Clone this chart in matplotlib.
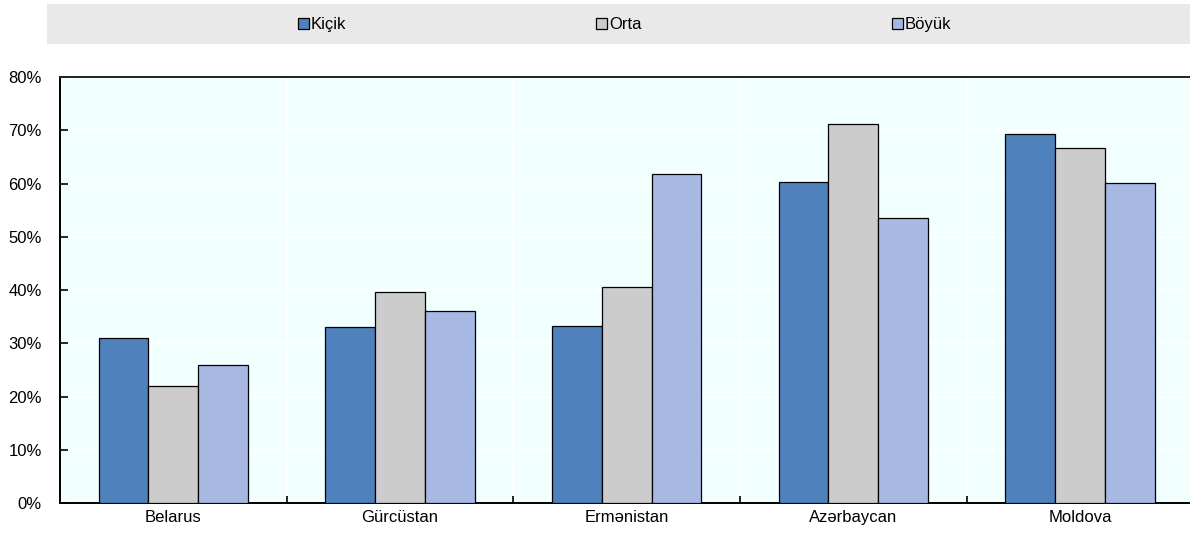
import matplotlib
matplotlib.use('Agg')
from matplotlib import pyplot as plt
from matplotlib.patches import Rectangle
import numpy as np

plt.rcParams['font.family'] = ['Liberation Sans', 'DejaVu Sans']

countries = ['Belarus', 'Gürcüstan', 'Ermənistan', 'Azərbaycan', 'Moldova']
kicik = [31.0, 33.1, 33.3, 60.3, 69.3]
orta = [22.0, 39.6, 40.6, 71.1, 66.7]
boyuk = [26.0, 36.1, 61.8, 53.5, 60.2]
series_names = ['Kiçik', 'Orta', 'Böyük']
colors = ['#4F81BD', '#CCCCCC', '#A7B9E3']

fs = 12
fig = plt.figure(figsize=(11.9, 5.34), dpi=100)

# grey legend band at top
fig.patches.append(Rectangle((47/1190, 1-44/534), 1.0, 40/534,
                             transform=fig.transFigure, facecolor='#E9E9E9',
                             edgecolor='none', zorder=0))

ax = fig.add_axes([60/1190, 1-503.3/534, 1133.3/1190, 426.3/534])
ax.set_facecolor('#F2FFFF')

x = np.arange(len(countries))
w = 0.22
bars = []
for i, vals in enumerate([kicik, orta, boyuk]):
    b = ax.bar(x + (i-1)*w, vals, w, color=colors[i], edgecolor='black',
               linewidth=0.9, label=series_names[i], zorder=3)
    bars.append(b)

ax.set_xlim(-0.5, len(countries)-0.5)
ax.set_ylim(0, 80)
ax.set_yticks(np.arange(0, 81, 10))
ax.set_yticklabels([f'{v}%' for v in range(0, 81, 10)], fontsize=fs)
ax.set_xticks(x)
ax.set_xticklabels(countries, fontsize=fs)
ax.set_xticks(np.arange(0.5, len(countries)-0.5, 1), minor=True)

ax.tick_params(axis='x', which='major', length=0, pad=5)
ax.tick_params(axis='x', which='minor', direction='in', length=5, width=1.2)
ax.tick_params(axis='y', direction='in', length=6, width=1.2, pad=13)

ax.grid(axis='y', color='white', linewidth=1.3, zorder=1)
ax.grid(axis='x', which='minor', color='white', linewidth=1.3, zorder=1)
ax.set_axisbelow(True)

for s in ['left', 'bottom', 'top']:
    ax.spines[s].set_linewidth(1.4)
    ax.spines[s].set_color('black')
ax.spines['top'].set_color('#222222')
ax.spines['right'].set_visible(False)

fig.legend(handles=bars, labels=series_names, loc='center',
           bbox_to_anchor=(624.5/1190, 1-24.5/534), ncol=3, frameon=False,
           fontsize=fs, handlelength=0.66, handleheight=0.66,
           handletextpad=0.12, columnspacing=15.0, borderaxespad=0)

fig.savefig('out.png', dpi=100)
